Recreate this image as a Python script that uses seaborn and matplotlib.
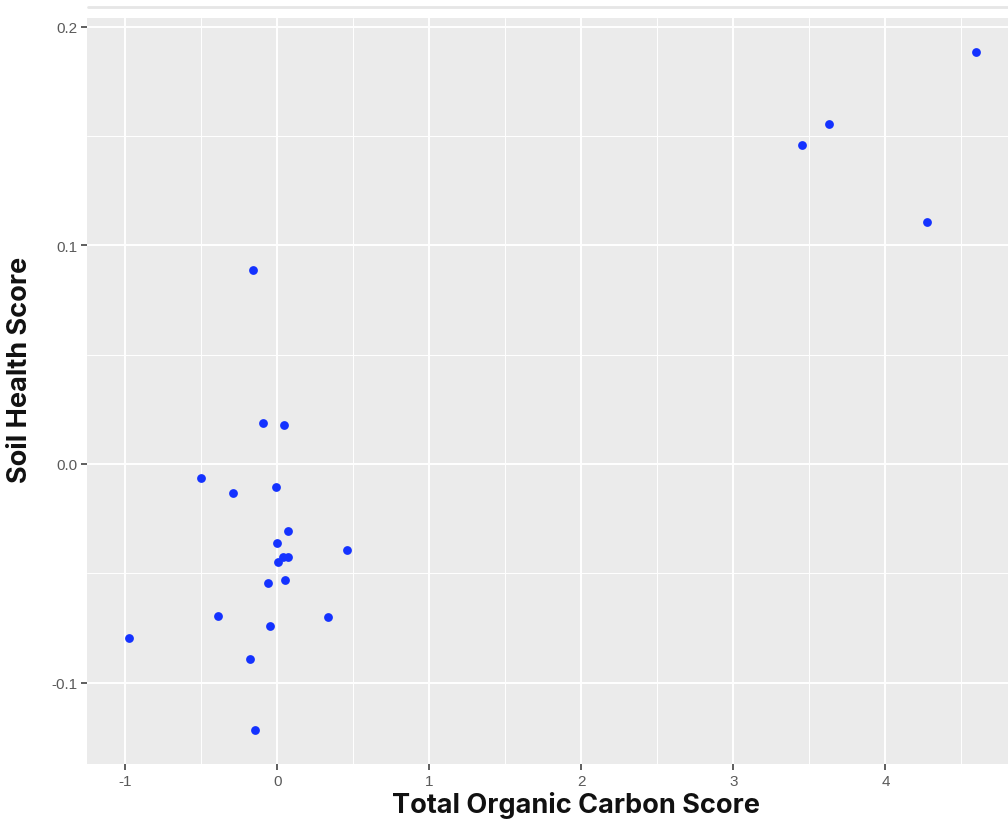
import matplotlib
matplotlib.use("Agg")
import matplotlib.pyplot as plt
import seaborn as sns
import pandas as pd
from matplotlib.ticker import MultipleLocator

# Site scores
toc_score = [-0.095, 0.040, -0.500, -0.290, -0.008, 0.070, -0.005, 0.460,
             0.034, 0.071, 0.003, -0.063, 0.047, -0.390, 0.330, -0.051,
             -0.977, -0.179, -0.146, -0.161, 3.453, 3.628, 4.275, 4.593]
soil_health = [0.0189, 0.0180, -0.0065, -0.0134, -0.0107, -0.0305, -0.0363, -0.0393,
               -0.0424, -0.0424, -0.0450, -0.0546, -0.0530, -0.0694, -0.0701, -0.0741,
               -0.0794, -0.0893, -0.1216, 0.0888, 0.1459, 0.1556, 0.1107, 0.1882]

x_ticks = [-1, 0, 1, 2, 3, 4]
x_tick_labels = ["-1", "0", "1", "2", "3", "4"]
y_ticks = [-0.1, 0.0, 0.1, 0.2]
y_tick_labels = ["-0.1", "0.0", "0.1", "0.2"]

df = pd.DataFrame({"toc": toc_score, "shs": soil_health})

sns.set_theme(style="darkgrid")
plt.rcParams["font.family"] = ["Liberation Sans", "DejaVu Sans"]

fig = plt.figure(figsize=(10.08, 8.28), dpi=100)
ax = fig.add_axes([87 / 1008, 63 / 828, 921 / 1008, 746 / 828])
ax.set_facecolor("#EBEBEB")

sns.scatterplot(data=df, x="toc", y="shs", ax=ax, color="#1432FF",
                s=40, linewidth=0, zorder=3)

ax.set_xlim(-1.253, 4.806)
ax.set_ylim(-0.1372, 0.2039)

ax.set_xticks(x_ticks)
ax.set_xticklabels(x_tick_labels)
ax.set_yticks(y_ticks)
ax.set_yticklabels(y_tick_labels)
ax.xaxis.set_minor_locator(MultipleLocator(0.5))
ax.yaxis.set_minor_locator(MultipleLocator(0.05))

ax.grid(which="major", color="white", linewidth=1.4)
ax.grid(which="minor", color="white", linewidth=0.7)
ax.set_axisbelow(True)
for sp in ax.spines.values():
    sp.set_visible(False)

ax.tick_params(axis="both", which="major", length=4, width=1.1, color="#333333",
               labelcolor="#5A5A5A", labelsize=11, pad=3, bottom=True, left=True)
ax.tick_params(axis="both", which="minor", length=0)

ax.set_xlabel("")
ax.set_ylabel("")

# A thin rule marking the edge of the panel above
fig.add_artist(plt.Line2D([88 / 1008, 1.0], [1 - 8 / 828, 1 - 8 / 828],
                          color="#E6E6E6", linewidth=2))

fig.text(576 / 1008, 1 - 806 / 828, "Total Organic Carbon Score",
         ha="center", va="center", fontsize=19.5, fontweight="bold",
         family="Inter", color="#111111")
fig.text(20 / 1008, 1 - 370 / 828, "Soil Health Score", rotation=90,
         ha="center", va="center", fontsize=19.5, fontweight="bold",
         family="Inter", color="#111111")

fig.savefig("out.png", dpi=100)
